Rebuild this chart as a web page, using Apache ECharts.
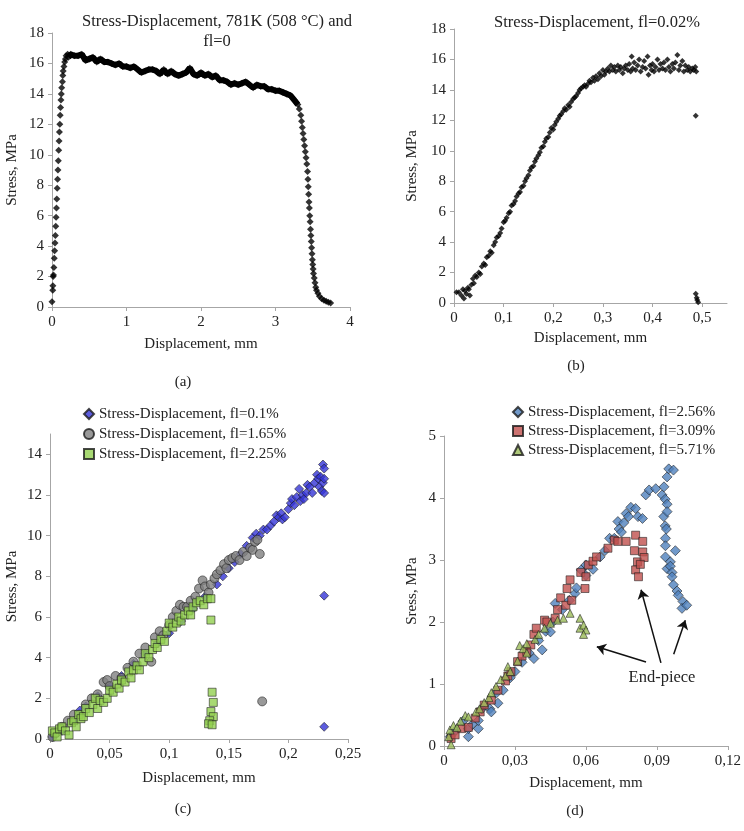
<!DOCTYPE html>
<html>
<head>
<meta charset="utf-8">
<script src="https://cdn.jsdelivr.net/npm/echarts@6/dist/echarts.min.js"></script>
<style>
html, body { margin: 0; background: #fff; }
#chart { width: 744px; height: 831px; }
</style>
</head>
<body>
<div id="chart"></div>
<script>
// (a) fl=0, 781K
var aRise = [[0,0.35],[0.01,1.1],[0.012,1.4],[0.015,2.0],[0.02,2.1],[0.025,2.6],[0.03,3.2],[0.035,3.7],[0.04,4.2],[0.045,4.7],[0.05,5.3],[0.055,5.9],[0.06,6.5],[0.065,7.1],[0.07,7.8],[0.075,8.4],[0.08,9.0],[0.085,9.6],[0.09,10.3],[0.095,10.9],[0.1,11.5],[0.105,12.0],[0.11,12.6],[0.115,13.1],[0.12,13.6],[0.125,14.0],[0.13,14.4],[0.14,14.8],[0.145,15.2],[0.15,15.5],[0.16,15.8],[0.17,16.1],[0.18,16.3],[0.19,16.5],[0.21,16.6]];
var aPlateau = [[0.22,16.4],[0.25,16.6],[0.3,16.5],[0.35,16.5],[0.4,16.6],[0.45,16.2],[0.5,16.3],[0.55,16.4],[0.6,16.1],[0.65,16.3],[0.7,16.1],[0.75,16.1],[0.8,16.0],[0.85,15.9],[0.9,16.0],[0.95,15.8],[1.0,15.8],[1.05,15.7],[1.1,15.8],[1.15,15.6],[1.2,15.4],[1.25,15.5],[1.3,15.6],[1.35,15.6],[1.4,15.5],[1.45,15.3],[1.5,15.6],[1.55,15.3],[1.6,15.5],[1.65,15.3],[1.7,15.2],[1.75,15.3],[1.8,15.4],[1.85,15.7],[1.9,15.3],[1.95,15.2],[2.0,15.4],[2.05,15.2],[2.1,15.3],[2.15,15.1],[2.2,15.2],[2.25,14.9],[2.3,14.9],[2.35,14.8],[2.4,14.6],[2.45,14.7],[2.5,14.6],[2.55,14.7],[2.6,14.8],[2.65,14.6],[2.7,14.4],[2.75,14.6],[2.8,14.5],[2.85,14.5],[2.9,14.3],[2.95,14.3],[3.0,14.2],[3.05,14.2],[3.1,14.1],[3.15,14.0],[3.2,13.9],[3.25,13.6],[3.3,13.3]];
var aDrop = [[3.32,13.0],[3.34,12.6],[3.35,12.2],[3.36,11.8],[3.37,11.4],[3.38,11.0],[3.39,10.6],[3.4,10.2],[3.41,9.8],[3.42,9.4],[3.43,8.9],[3.435,8.4],[3.44,7.9],[3.445,7.4],[3.45,6.9],[3.455,6.5],[3.46,6.0],[3.465,5.6],[3.47,5.1],[3.475,4.7],[3.48,4.3],[3.485,3.9],[3.49,3.5],[3.495,3.1],[3.5,2.8],[3.505,2.5],[3.51,2.2],[3.52,1.9],[3.53,1.6],[3.54,1.3],[3.55,1.1],[3.57,0.9],[3.59,0.7],[3.62,0.55],[3.65,0.45],[3.68,0.38],[3.71,0.32],[3.74,0.27]];

// (b) fl=0.02%
var bPoints = [[0.005,0.7],[0.01,0.7],[0.015,0.5],[0.018,0.9],[0.02,0.3],[0.022,0.8],[0.025,0.6],[0.028,1.0],[0.03,0.9],[0.032,0.5],[0.035,1.2],[0.038,1.6],[0.04,1.3],[0.043,1.8],[0.046,1.7],[0.05,2.0],[0.053,1.9],[0.056,2.4],[0.06,2.6],[0.063,2.5],[0.066,3.0],[0.07,3.1],[0.073,3.4],[0.076,3.3],[0.08,3.8],[0.083,4.0],[0.086,4.3],[0.09,4.4],[0.093,4.6],[0.096,4.9],[0.1,5.3],[0.103,5.4],[0.106,5.6],[0.11,5.9],[0.113,6.0],[0.116,6.4],[0.12,6.5],[0.123,6.7],[0.126,7.0],[0.13,7.2],[0.133,7.3],[0.136,7.6],[0.14,7.7],[0.143,8.0],[0.146,8.2],[0.15,8.4],[0.153,8.7],[0.156,8.9],[0.16,9.0],[0.163,9.3],[0.166,9.5],[0.17,9.7],[0.173,9.9],[0.176,10.2],[0.18,10.3],[0.183,10.6],[0.186,10.8],[0.19,10.9],[0.193,11.2],[0.196,11.5],[0.2,11.4],[0.203,11.7],[0.206,11.9],[0.21,12.1],[0.213,12.3],[0.216,12.4],[0.22,12.6],[0.223,12.8],[0.226,12.7],[0.23,13.0],[0.233,12.9],[0.236,13.2],[0.24,13.4],[0.243,13.5],[0.246,13.6],[0.25,13.8],[0.253,14.0],[0.256,14.1],[0.26,14.2],[0.263,14.3],[0.266,14.2],[0.27,14.4],[0.273,14.6],[0.276,14.5],[0.28,14.8],[0.283,14.6],[0.286,14.9],[0.29,14.7],[0.293,15.1],[0.296,14.9],[0.3,15.3],[0.303,15.0],[0.306,15.2],[0.31,15.4],[0.313,15.2],[0.316,15.6],[0.32,15.3],[0.323,15.5],[0.326,15.2],[0.33,15.6],[0.333,15.3],[0.336,15.5],[0.34,15.1],[0.343,15.4],[0.346,15.6],[0.35,15.3],[0.353,15.7],[0.356,15.2],[0.358,16.2],[0.36,15.4],[0.363,15.8],[0.366,15.3],[0.37,15.6],[0.373,16.0],[0.376,15.2],[0.38,15.5],[0.383,15.9],[0.386,15.4],[0.39,16.2],[0.392,15.0],[0.395,15.6],[0.398,15.3],[0.4,15.7],[0.403,15.2],[0.406,15.5],[0.41,16.0],[0.413,15.3],[0.416,15.7],[0.42,15.4],[0.423,15.8],[0.426,15.3],[0.43,16.0],[0.433,15.5],[0.436,15.2],[0.44,15.7],[0.443,15.4],[0.446,15.8],[0.45,16.3],[0.453,15.3],[0.456,15.6],[0.46,15.9],[0.463,15.2],[0.466,15.6],[0.47,15.3],[0.473,15.5],[0.476,15.2],[0.48,15.4],[0.483,15.3],[0.486,15.5],[0.488,15.2],[0.487,12.3],[0.487,0.6],[0.489,0.35],[0.49,0.2],[0.492,0.05]];

// (c) fl=0.1%, 1.65%, 2.25%
var cBlue = [[0.002,0.1],[0.01,0.4],[0.02,0.9],[0.025,1.4],[0.03,1.6],[0.04,2.1],[0.05,2.6],[0.06,3.1],[0.07,3.7],[0.08,4.2],[0.09,4.7],[0.1,5.2],[0.11,5.8],[0.12,6.4],[0.13,7.0],[0.14,7.6],[0.145,8.0],[0.15,8.4],[0.155,8.7],[0.16,9.1],[0.165,9.5],[0.17,9.9],[0.173,10.1],[0.176,10.0],[0.179,10.3],[0.182,10.3],[0.185,10.5],[0.188,10.7],[0.19,11.0],[0.192,10.9],[0.194,11.1],[0.195,10.8],[0.197,10.9],[0.2,11.3],[0.202,11.6],[0.203,11.8],[0.205,11.5],[0.207,11.9],[0.209,12.3],[0.21,11.7],[0.212,12.0],[0.213,11.8],[0.215,12.1],[0.216,12.5],[0.218,12.4],[0.22,12.1],[0.222,12.6],[0.224,13.0],[0.225,12.8],[0.226,12.4],[0.227,12.9],[0.228,12.2],[0.229,12.6],[0.229,13.5],[0.23,13.3],[0.23,12.1],[0.23,12.8],[0.23,7.05],[0.23,0.6]];
var cGray = [[0.002,0.1],[0.005,0.3],[0.01,0.6],[0.015,0.9],[0.02,1.2],[0.025,1.2],[0.03,1.7],[0.035,2.0],[0.04,2.2],[0.045,2.8],[0.048,2.9],[0.05,2.6],[0.055,3.1],[0.06,3.0],[0.065,3.5],[0.07,3.8],[0.075,4.2],[0.08,4.5],[0.085,3.8],[0.088,5.0],[0.092,5.3],[0.095,5.1],[0.1,5.6],[0.103,6.0],[0.106,6.3],[0.109,6.6],[0.112,6.5],[0.115,6.5],[0.118,6.8],[0.122,7.0],[0.125,7.4],[0.128,7.8],[0.13,7.5],[0.133,7.2],[0.135,7.6],[0.138,7.9],[0.14,8.1],[0.143,8.3],[0.146,8.6],[0.148,8.4],[0.15,8.8],[0.153,8.9],[0.156,9.0],[0.159,8.8],[0.162,9.2],[0.165,9.0],[0.168,9.4],[0.17,9.3],[0.172,9.7],[0.174,9.8],[0.176,9.1],[0.178,1.85]];
var cGreen = [[0.002,0.4],[0.004,0.3],[0.006,0.1],[0.008,0.5],[0.01,0.6],[0.013,0.4],[0.016,0.2],[0.018,0.8],[0.02,0.9],[0.022,0.6],[0.024,1.2],[0.026,1.0],[0.028,1.1],[0.03,1.5],[0.033,1.3],[0.036,1.7],[0.038,2.0],[0.04,1.5],[0.042,1.9],[0.045,1.8],[0.048,2.0],[0.05,2.4],[0.053,2.3],[0.056,2.7],[0.058,2.5],[0.06,2.9],[0.063,2.8],[0.066,3.3],[0.068,3.0],[0.07,3.4],[0.073,3.6],[0.075,3.4],[0.078,3.8],[0.08,4.2],[0.083,4.0],[0.086,4.4],[0.088,4.7],[0.09,4.5],[0.093,4.9],[0.096,4.8],[0.098,5.3],[0.1,5.7],[0.103,5.5],[0.106,5.7],[0.108,6.0],[0.11,5.8],[0.113,6.1],[0.116,6.3],[0.118,6.1],[0.12,6.5],[0.123,6.7],[0.126,6.8],[0.129,6.6],[0.132,6.9],[0.135,6.9],[0.135,5.85],[0.136,2.3],[0.137,1.8],[0.135,1.35],[0.137,1.1],[0.134,0.9],[0.133,0.75],[0.136,0.7]];

// (d) fl=2.56%, 3.09%, 5.71%
var dBlue = [[0.0026,0.15],[0.005,0.25],[0.008,0.4],[0.0103,0.15],[0.0103,0.28],[0.012,0.35],[0.0145,0.28],[0.0145,0.41],[0.016,0.6],[0.0194,0.6],[0.02,0.55],[0.0228,0.69],[0.022,0.85],[0.025,0.9],[0.028,1.1],[0.03,1.2],[0.033,1.35],[0.036,1.5],[0.038,1.41],[0.04,1.7],[0.0415,1.55],[0.043,1.85],[0.045,1.84],[0.046,2.0],[0.047,2.3],[0.05,2.2],[0.053,2.35],[0.0554,2.46],[0.056,2.55],[0.058,2.84],[0.06,2.92],[0.06,2.75],[0.063,2.85],[0.066,3.05],[0.068,3.15],[0.07,3.35],[0.072,3.35],[0.0735,3.62],[0.074,3.5],[0.075,3.45],[0.076,3.6],[0.077,3.75],[0.078,3.7],[0.079,3.85],[0.081,3.83],[0.082,3.7],[0.0839,3.67],[0.0853,4.05],[0.0867,4.13],[0.0895,4.15],[0.0922,4.05],[0.093,4.18],[0.0943,4.34],[0.095,4.47],[0.097,4.45],[0.0935,3.98],[0.0943,3.9],[0.0929,3.7],[0.0943,3.78],[0.0935,3.55],[0.094,3.5],[0.0936,3.35],[0.0936,3.23],[0.0936,3.05],[0.0943,2.86],[0.0957,2.97],[0.0957,2.9],[0.0964,2.8],[0.0978,3.15],[0.0964,2.73],[0.097,2.6],[0.0985,2.5],[0.099,2.43],[0.101,2.33],[0.1006,2.22],[0.1026,2.27]];
var dRed = [[0.003,0.12],[0.0047,0.18],[0.0075,0.28],[0.0103,0.3],[0.0132,0.45],[0.0153,0.55],[0.017,0.66],[0.02,0.74],[0.0228,0.9],[0.026,1.05],[0.027,1.13],[0.0283,1.2],[0.0311,1.36],[0.033,1.45],[0.035,1.52],[0.0367,1.63],[0.038,1.8],[0.039,1.9],[0.0425,2.03],[0.0435,2.0],[0.047,2.06],[0.048,2.2],[0.0493,2.39],[0.0515,2.27],[0.052,2.54],[0.0533,2.68],[0.054,2.35],[0.0578,2.8],[0.0596,2.54],[0.06,2.73],[0.061,2.92],[0.063,2.98],[0.0645,3.05],[0.0693,3.19],[0.072,3.32],[0.0735,3.3],[0.077,3.3],[0.081,3.4],[0.084,3.3],[0.0805,3.15],[0.0818,2.97],[0.081,2.84],[0.0822,2.73],[0.084,3.13],[0.0846,3.04],[0.083,2.93]];
var dGreen = [[0.002,0.15],[0.003,0.02],[0.0025,0.26],[0.004,0.33],[0.0055,0.3],[0.007,0.4],[0.009,0.49],[0.0103,0.47],[0.0135,0.55],[0.015,0.6],[0.017,0.7],[0.019,0.78],[0.02,0.86],[0.022,0.96],[0.024,1.07],[0.026,1.13],[0.027,1.28],[0.028,1.2],[0.0311,1.37],[0.032,1.62],[0.0335,1.57],[0.035,1.65],[0.035,1.5],[0.0385,1.72],[0.04,1.8],[0.0425,1.9],[0.045,1.98],[0.048,2.03],[0.0505,2.06],[0.0533,2.14],[0.0575,2.06],[0.0575,1.9],[0.059,1.95],[0.06,1.87],[0.059,1.8]];

// (d) annotation arrows, [start, end] in data units
var dArrows = [[[0.0854,1.355],[0.0646,1.60]],[[0.0917,1.34],[0.0833,2.52]],[[0.0971,1.48],[0.1020,2.03]]];

var FONT = 'Liberation Serif';
var AXIS_GRAY = '#a6a6a6';

function commaLabel(v) {
  return String(+v.toFixed(3)).replace('.', ',');
}

function xAxisCfg(gridIndex, max, interval, nameGap, comma) {
  return {
    type: 'value', gridIndex: gridIndex, min: 0, max: max, interval: interval,
    name: 'Displacement, mm', nameLocation: 'middle', nameGap: nameGap,
    nameTextStyle: { fontFamily: FONT, fontSize: 15, color: '#222' },
    axisLine: { lineStyle: { color: AXIS_GRAY } },
    axisTick: { show: true, length: 4, lineStyle: { color: AXIS_GRAY } },
    axisLabel: { fontFamily: FONT, fontSize: 15, color: '#222', margin: 8,
      showMaxLabel: max % interval < 1e-9 || interval - (max % interval) < 1e-9,
      formatter: comma ? commaLabel : null },
    splitLine: { show: false }
  };
}

function yAxisCfg(gridIndex, max, interval, name, nameGap) {
  return {
    type: 'value', gridIndex: gridIndex, min: 0, max: max, interval: interval,
    name: name, nameLocation: 'middle', nameGap: nameGap, nameRotate: 90,
    nameTextStyle: { fontFamily: FONT, fontSize: 15, color: '#222' },
    axisLine: { show: true, lineStyle: { color: AXIS_GRAY } },
    axisTick: { show: true, length: 4, lineStyle: { color: AXIS_GRAY } },
    axisLabel: { fontFamily: FONT, fontSize: 15, color: '#222', margin: 8,
      showMaxLabel: max % interval === 0 },
    splitLine: { show: false }
  };
}

var BORDER = { borderColor: '#1a1a1a', borderWidth: 0.7 };

var chart = echarts.init(document.getElementById('chart'), null, { renderer: 'canvas' });

var option = {
  backgroundColor: '#fff',
  animation: false,
  grid: [
    { left: 52, top: 33, width: 298, height: 274 },
    { left: 454, top: 29, width: 273, height: 274 },
    { left: 50, top: 434, width: 298, height: 305 },
    { left: 444, top: 436, width: 288, height: 310 }
  ],
  xAxis: [
    xAxisCfg(0, 4, 1, 30, false),
    xAxisCfg(1, 0.55, 0.1, 28, true),
    xAxisCfg(2, 0.25, 0.05, 32, true),
    xAxisCfg(3, 0.12, 0.03, 30, true)
  ],
  yAxis: [
    yAxisCfg(0, 18, 2, 'Stress, MPa', 32),
    yAxisCfg(1, 18, 2, 'Stress, MPa', 34),
    yAxisCfg(2, 15, 2, 'Stress, MPa', 30),
    yAxisCfg(3, 5, 1, 'Sress, MPa', 24)
  ],
  legend: [
    {
      data: ['Stress-Displacement, fl=0.1%', 'Stress-Displacement, fl=1.65%', 'Stress-Displacement, fl=2.25%'],
      orient: 'vertical', left: 78, top: 401, itemGap: 4, itemWidth: 10, itemHeight: 10,
      textStyle: { fontFamily: FONT, fontSize: 15, color: '#222', lineHeight: 16 }
    },
    {
      data: ['Stress-Displacement, fl=2.56%', 'Stress-Displacement, fl=3.09%', 'Stress-Displacement, fl=5.71%'],
      orient: 'vertical', left: 507, top: 399, itemGap: 3, itemWidth: 10, itemHeight: 10,
      textStyle: { fontFamily: FONT, fontSize: 15, color: '#222', lineHeight: 16 }
    }
  ],
  graphic: [
    { type: 'text', x: 217, y: 12, style: { text: 'Stress-Displacement, 781K (508 °C) and\nfl=0', textAlign: 'center', font: '16.5px "Liberation Serif"', fill: '#222', lineHeight: 20 } },
    { type: 'text', x: 597, y: 14, style: { text: 'Stress-Displacement, fl=0.02%', textAlign: 'center', font: '16.5px "Liberation Serif"', fill: '#222' } },
    { type: 'text', x: 183, y: 375, style: { text: '(a)', textAlign: 'center', font: '15px "Liberation Serif"', fill: '#222' } },
    { type: 'text', x: 576, y: 359, style: { text: '(b)', textAlign: 'center', font: '15px "Liberation Serif"', fill: '#222' } },
    { type: 'text', x: 183, y: 802, style: { text: '(c)', textAlign: 'center', font: '15px "Liberation Serif"', fill: '#222' } },
    { type: 'text', x: 575, y: 804, style: { text: '(d)', textAlign: 'center', font: '15px "Liberation Serif"', fill: '#222' } },
    { type: 'text', x: 662, y: 669, style: { text: 'End-piece', textAlign: 'center', font: '16.5px "Liberation Serif"', fill: '#222' } }
  ],
  series: [
    { type: 'line', xAxisIndex: 0, yAxisIndex: 0, data: aPlateau, symbol: 'none',
      lineStyle: { color: '#000', width: 6 }, z: 2 },
    { type: 'scatter', xAxisIndex: 0, yAxisIndex: 0, data: aRise.concat(aPlateau, aDrop),
      symbol: 'diamond', symbolSize: 7, itemStyle: { color: '#000' } },
    { type: 'scatter', xAxisIndex: 1, yAxisIndex: 1, data: bPoints,
      symbol: 'diamond', symbolSize: 6, itemStyle: { color: '#000' } },
    { name: 'Stress-Displacement, fl=0.1%', type: 'scatter', xAxisIndex: 2, yAxisIndex: 2, data: cBlue,
      symbol: 'diamond', symbolSize: 9, itemStyle: Object.assign({ color: '#3434d6' }, BORDER) },
    { name: 'Stress-Displacement, fl=1.65%', type: 'scatter', xAxisIndex: 2, yAxisIndex: 2, data: cGray,
      symbol: 'circle', symbolSize: 9, itemStyle: Object.assign({ color: '#808080' }, BORDER) },
    { name: 'Stress-Displacement, fl=2.25%', type: 'scatter', xAxisIndex: 2, yAxisIndex: 2, data: cGreen,
      symbol: 'rect', symbolSize: 8, itemStyle: Object.assign({ color: '#92d050' }, BORDER) },
    { name: 'Stress-Displacement, fl=2.56%', type: 'scatter', xAxisIndex: 3, yAxisIndex: 3, data: dBlue,
      symbol: 'diamond', symbolSize: 10, itemStyle: Object.assign({ color: '#4f81bd' }, BORDER) },
    { name: 'Stress-Displacement, fl=3.09%', type: 'scatter', xAxisIndex: 3, yAxisIndex: 3, data: dRed,
      symbol: 'rect', symbolSize: 8, itemStyle: Object.assign({ color: '#c0504d' }, BORDER) },
    { name: 'Stress-Displacement, fl=5.71%', type: 'scatter', xAxisIndex: 3, yAxisIndex: 3, data: dGreen,
      symbol: 'triangle', symbolSize: 8, itemStyle: Object.assign({ color: '#9bbb59' }, BORDER),
      markLine: {
        silent: true, symbol: ['none', 'arrow'], symbolSize: 9,
        label: { show: false },
        lineStyle: { color: '#111', width: 1.5, type: 'solid' },
        data: dArrows.map(function (a) { return [{ coord: a[0] }, { coord: a[1] }]; })
      }
    }
  ]
};

chart.setOption(option);
</script>
</body>
</html>
